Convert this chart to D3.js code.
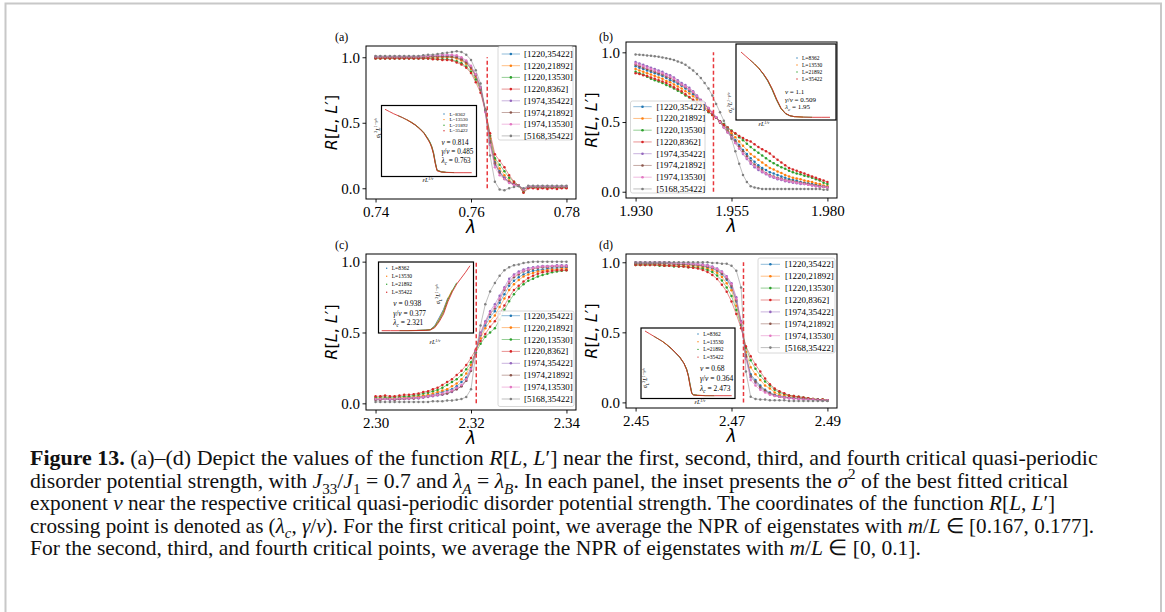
<!DOCTYPE html>
<html>
<head>
<meta charset="utf-8">
<script src="https://cdnjs.cloudflare.com/ajax/libs/d3/7.8.5/d3.min.js"></script>
<style>
  body { margin: 0; background: #fff; }
  svg { display: block; }
</style>
</head>
<body>
<svg id="fig" width="1165" height="612"></svg>
<script>
// ---------- data ----------
const seriesNames = ['[1220,35422]', '[1220,21892]', '[1220,13530]', '[1220,8362]',
                     '[1974,35422]', '[1974,21892]', '[1974,13530]', '[5168,35422]'];
const seriesColors = ['#1f77b4', '#ff7f0e', '#2ca02c', '#d62728', '#9467bd', '#8c564b', '#e377c2', '#7f7f7f'];
const insetNames = ['L=8362', 'L=13530', 'L=21892', 'L=35422'];
const insetColors = ['#1f77b4', '#ff7f0e', '#2ca02c', '#d62728'];
const yTicks = [0, 0.5, 1.0];
const xTicksA = [0.74, 0.76, 0.78];
const xTicksB = [1.930, 1.955, 1.980];
const xTicksC = [2.30, 2.32, 2.34];
const xTicksD = [2.45, 2.47, 2.49];
const critLambda = [0.7634, 1.9503, 2.3211, 2.4725];
const insetNu = ['0.814', '1.1', '0.938', '0.68'];
const insetGammaNu = ['0.485', '0.509', '0.377', '0.364'];
const insetLamC = ['0.763', '1.95', '2.321', '2.473'];

// lambda grids the data were sampled on
const lamA = d3.range(41).map(i => +(0.740 + 0.001 * i).toFixed(3));
const lamB = d3.range(51).map(i => +(1.930 + 0.001 * i).toFixed(3));
const lamC = d3.range(41).map(i => +(2.300 + 0.001 * i).toFixed(3));
const lamD = d3.range(41).map(i => +(2.450 + 0.001 * i).toFixed(3));

// panel (a)
const a_1220_35422 = [1.00,1.00,1.00,1.00,1.00,1.00,1.00,1.00,1.00,1.00,
  1.00,1.00,1.005,1.005,1.005,1.005,1.00,.995,.98,.955,
  .92,.86,.77,.60,.36,.20,.13,.08,.05,.03,
  .02,-.01,.01,.01,.01,.01,.01,.01,.01,.01,.01];
const a_1220_21892 = [1.00,1.00,1.00,1.00,1.00,1.00,1.00,1.00,1.00,1.00,
  1.00,1.00,1.00,1.00,1.00,1.00,1.00,.99,.975,.95,
  .91,.85,.76,.60,.38,.22,.15,.10,.06,.035,
  .02,-.015,.01,.01,.005,.01,.005,.01,.005,.01,.005];
const a_1220_13530 = [.99,.99,.99,.99,.99,.99,.99,.99,.99,.99,
  .99,.99,.99,.985,.985,.985,.98,.97,.955,.93,
  .89,.83,.75,.60,.40,.23,.18,.13,.08,.05,
  .02,-.03,.005,.005,.005,.005,.005,.005,.005,.005,.005];
const a_1220_8362 = [.99,.99,.99,.99,.99,.99,.99,.99,.99,.99,
  .99,.99,.985,.985,.98,.98,.975,.96,.945,.92,
  .88,.81,.73,.59,.42,.26,.21,.16,.10,.05,
  .02,-.035,0,0,-.005,0,-.005,0,-.005,0,0];
const a_1974_35422 = [1.005,1.005,1.005,1.005,1.005,1.005,1.005,1.005,1.005,1.005,
  1.01,1.01,1.01,1.015,1.015,1.015,1.015,1.01,.995,.97,
  .93,.87,.77,.59,.34,.18,.12,.08,.05,.03,
  .02,-.01,.015,.015,.015,.015,.015,.015,.015,.015,.015];
const a_1974_21892 = [1.00,1.00,1.00,1.00,1.00,1.00,1.00,1.00,1.00,1.00,
  1.00,1.005,1.005,1.005,1.005,1.005,1.005,1.00,.985,.96,
  .92,.86,.76,.59,.35,.19,.12,.07,.045,.03,
  .02,-.01,.01,.01,.01,.01,.01,.01,.01,.01,.01];
const a_1974_13530 = [1.005,1.005,1.005,1.005,1.005,1.005,1.005,1.005,1.005,1.005,
  1.01,1.01,1.015,1.015,1.02,1.02,1.02,1.015,1.00,.975,
  .935,.87,.77,.58,.33,.16,.10,.07,.04,.025,
  .02,-.01,.015,.015,.015,.015,.015,.015,.015,.015,.015];
const a_5168_35422 = [1.01,1.01,1.01,1.01,1.01,1.01,1.01,1.01,1.01,1.01,
  1.015,1.02,1.02,1.025,1.03,1.035,1.04,1.045,1.04,1.02,
  .98,.90,.80,.60,.25,.05,-.01,-.015,0,.01,
  .015,0,.02,.02,.02,.02,.02,.02,.02,.02,.02];

// panel (b)
const b_1220_35422 = [.90,.89,.88,.87,.86,.85,.84,.83,.815,.80,.79,.775,.76,.74,.72,.70,.675,.65,.625,.595,
  .565,.535,.505,.475,.44,.41,.37,.335,.30,.27,.24,.215,.19,.17,.155,.14,.13,.12,.11,.10,
  .09,.085,.08,.07,.065,.06,.055,.05,.045,.04,.035];
const b_1220_21892 = [.88,.87,.86,.85,.84,.83,.82,.81,.795,.785,.77,.755,.74,.72,.705,.685,.66,.635,.61,.585,
  .56,.53,.50,.475,.445,.42,.39,.36,.33,.30,.27,.25,.23,.21,.19,.17,.16,.145,.135,.12,
  .11,.10,.095,.09,.08,.075,.07,.06,.055,.045,.04];
const b_1220_13530 = [.86,.85,.84,.825,.81,.80,.79,.78,.765,.755,.74,.725,.71,.69,.675,.655,.635,.615,.595,.57,
  .55,.53,.505,.485,.46,.44,.415,.39,.37,.345,.32,.30,.28,.26,.24,.22,.205,.19,.175,.165,
  .15,.14,.13,.125,.115,.11,.10,.09,.08,.065,.055];
const b_1220_8362 = [.85,.845,.835,.83,.82,.81,.80,.79,.78,.765,.75,.735,.72,.70,.68,.66,.64,.62,.595,.575,
  .55,.53,.505,.48,.46,.435,.42,.40,.385,.37,.36,.34,.32,.305,.29,.275,.25,.23,.21,.19,
  .17,.16,.15,.14,.13,.12,.11,.10,.09,.08,.07];
const b_1974_35422 = [.93,.92,.91,.90,.89,.88,.87,.86,.845,.835,.82,.80,.78,.765,.745,.72,.69,.66,.635,.60,
  .57,.535,.50,.46,.425,.39,.35,.31,.27,.235,.20,.175,.155,.14,.125,.11,.10,.09,.085,.075,
  .07,.065,.06,.055,.055,.05,.045,.04,.035,.035,.03];
const b_1974_21892 = [.91,.90,.89,.88,.87,.86,.85,.84,.825,.815,.80,.785,.765,.75,.73,.71,.68,.655,.625,.595,
  .565,.53,.495,.465,.43,.40,.36,.325,.29,.255,.22,.195,.175,.155,.135,.12,.11,.10,.095,.085,
  .08,.075,.07,.065,.06,.055,.05,.045,.04,.035,.03];
const b_1974_13530 = [.92,.91,.90,.89,.88,.87,.86,.85,.835,.825,.81,.79,.77,.755,.735,.715,.685,.655,.63,.60,
  .57,.535,.50,.46,.425,.39,.35,.31,.275,.24,.21,.185,.165,.145,.13,.115,.105,.095,.09,.08,
  .075,.07,.065,.06,.055,.05,.045,.04,.035,.035,.03];
const b_5168_35422 = [.985,.983,.98,.978,.975,.972,.968,.963,.958,.952,.945,.935,.925,.91,.89,.87,.845,.815,.78,.74,
  .69,.63,.57,.51,.45,.38,.29,.20,.12,.07,.04,.03,.025,.02,.02,.02,.02,.02,.02,.02,
  .02,.02,.02,.02,.02,.02,.02,.02,.02,.015,.015];

// panel (c)
const c_1220_35422 = [.03,.03,.035,.03,.03,.035,.035,.04,.04,.045,
  .05,.055,.06,.07,.08,.09,.10,.12,.15,.18,
  .25,.37,.48,.55,.61,.65,.71,.77,.83,.865,
  .89,.91,.925,.935,.94,.945,.95,.955,.955,.96,.96];
const c_1220_21892 = [.035,.035,.04,.035,.035,.04,.04,.045,.045,.05,
  .055,.06,.07,.08,.09,.10,.12,.14,.17,.21,
  .27,.36,.46,.53,.58,.62,.68,.74,.80,.84,
  .87,.895,.91,.92,.93,.935,.94,.945,.945,.95,.95];
const c_1220_13530 = [.04,.045,.045,.04,.045,.045,.05,.05,.055,.06,
  .07,.075,.085,.095,.11,.13,.15,.17,.20,.24,
  .29,.36,.42,.47,.50,.53,.59,.66,.72,.77,
  .81,.84,.865,.88,.895,.905,.915,.925,.93,.935,.94];
const c_1220_8362 = [.05,.05,.055,.05,.05,.055,.06,.06,.065,.07,
  .08,.085,.10,.11,.13,.15,.17,.20,.23,.27,
  .32,.38,.44,.49,.54,.58,.63,.69,.75,.80,
  .83,.86,.885,.90,.915,.925,.93,.935,.94,.94,.94];
const c_1974_35422 = [.025,.025,.03,.025,.025,.03,.03,.03,.035,.035,
  .04,.045,.05,.055,.06,.07,.08,.10,.12,.16,
  .23,.37,.50,.58,.65,.70,.76,.82,.88,.91,
  .93,.945,.955,.96,.965,.97,.97,.97,.975,.975,.975];
const c_1974_21892 = [.025,.025,.03,.03,.025,.03,.03,.035,.035,.04,
  .045,.05,.055,.06,.065,.07,.085,.10,.12,.16,
  .23,.37,.49,.57,.63,.67,.73,.80,.85,.89,
  .91,.93,.94,.95,.955,.96,.96,.965,.965,.965,.965];
const c_1974_13530 = [.03,.03,.03,.03,.03,.035,.035,.035,.04,.04,
  .045,.05,.055,.06,.07,.08,.09,.11,.13,.17,
  .24,.37,.49,.57,.64,.68,.74,.81,.86,.90,
  .92,.935,.945,.955,.96,.965,.965,.97,.97,.97,.97];
const c_5168_35422 = [.01,.01,.01,.01,.01,.01,.01,.01,.01,.01,
  .01,.01,.015,.015,.015,.02,.02,.025,.03,.045,
  .10,.35,.55,.70,.79,.85,.90,.94,.96,.975,
  .98,.99,.995,1.0,1.0,1.0,1.0,1.0,1.0,1.0,1.0];

// panel (d)
const d_1220_35422 = [.99,.99,.99,.99,.99,.99,.99,.99,.985,.985,
  .985,.985,.98,.98,.975,.965,.955,.94,.915,.875,
  .82,.72,.57,.34,.20,.16,.12,.09,.07,.055,
  .045,.04,.035,.03,.03,.025,.025,.02,.02,.015,.015];
const d_1220_21892 = [.985,.985,.985,.985,.985,.985,.98,.98,.98,.98,
  .98,.975,.975,.97,.965,.955,.945,.925,.895,.85,
  .80,.69,.56,.36,.25,.20,.16,.12,.10,.07,
  .055,.05,.045,.04,.035,.03,.025,.025,.02,.02,.015];
const d_1220_13530 = [.98,.98,.98,.98,.98,.975,.975,.975,.97,.97,
  .97,.965,.965,.96,.955,.945,.93,.905,.87,.82,
  .76,.66,.55,.39,.30,.24,.19,.15,.12,.09,
  .07,.06,.05,.045,.04,.035,.03,.025,.02,.02,.015];
const d_1220_8362 = [.98,.98,.98,.98,.98,.98,.975,.975,.975,.97,
  .97,.965,.96,.955,.945,.93,.91,.88,.84,.79,
  .72,.63,.53,.40,.33,.27,.22,.17,.13,.10,
  .08,.065,.05,.045,.04,.035,.03,.025,.02,.02,.015];
const d_1974_35422 = [1.0,1.0,1.0,1.0,1.0,1.0,1.0,1.0,.995,.995,
  .995,.995,.99,.99,.985,.98,.97,.955,.935,.90,
  .85,.75,.58,.32,.18,.14,.10,.08,.06,.05,
  .04,.035,.03,.03,.025,.025,.02,.02,.02,.015,.015];
const d_1974_21892 = [.99,.99,.99,.99,.99,.99,.99,.99,.99,.985,
  .985,.985,.98,.98,.975,.97,.96,.945,.92,.885,
  .83,.73,.57,.33,.19,.15,.11,.085,.065,.05,
  .04,.035,.035,.03,.03,.025,.025,.02,.02,.015,.015];
const d_1974_13530 = [1.0,1.0,1.0,1.0,1.0,1.0,1.0,.995,.995,.995,
  .995,.99,.99,.985,.98,.975,.965,.95,.93,.895,
  .845,.74,.57,.31,.16,.12,.09,.07,.055,.045,
  .04,.035,.03,.025,.025,.02,.02,.02,.015,.015,.015];
const d_5168_35422 = [1.0,1.0,1.0,1.0,1.0,1.0,1.0,1.0,1.0,1.0,
  1.0,1.0,1.0,1.0,1.0,1.0,.995,.995,.99,.99,
  .975,.94,.82,.22,.04,.025,.02,.02,.015,.015,
  .015,.015,.01,.01,.01,.01,.01,.01,.01,.01,.01];

// insets: scaled variable (arbitrary units) and sigma^2 L^(1-gamma/nu), null = not sampled
const insA_x = [0,.05,.1,.15,.2,.25,.3,.35,.4,.45,.5,.52,.54,.56,.58,.6,.65,.7,.8,.9,1.0];
const insA_8362 = [null,null,null,null,null,null,.80,.755,.70,.63,.53,.48,.415,.32,.17,.045,.015,.008,null,null,null];
const insA_13530 = [null,null,null,null,null,.84,.80,.755,.70,.63,.525,.475,.41,.31,.16,.04,.014,.007,null,null,null];
const insA_21892 = [null,null,null,.90,.87,.835,.795,.75,.695,.625,.52,.47,.40,.30,.15,.035,.012,.006,.002,null,null];
const insA_35422 = [1.0,.965,.93,.90,.87,.835,.795,.75,.69,.62,.51,.46,.39,.29,.14,.03,.01,.005,0,0,0];

const insB_x = [0,.05,.1,.15,.2,.25,.3,.35,.4,.45,.5,.55,.6,.7,.8,.9,1.0];
const insB_8362 = [null,null,null,null,.75,.66,.555,.42,.26,.13,.055,.022,.01,null,null,null,null];
const insB_13530 = [null,null,null,.82,.75,.665,.56,.425,.265,.13,.056,.023,.01,.003,null,null,null];
const insB_21892 = [null,null,.88,.82,.75,.665,.565,.43,.27,.135,.058,.024,.01,.003,.001,null,null];
const insB_35422 = [1,.94,.88,.82,.75,.67,.57,.44,.28,.14,.06,.025,.01,.003,0,0,0];

const insC_x = [0,.1,.2,.3,.4,.5,.55,.6,.65,.7,.75,.8,.85,.9,.95,1.0];
const insC_8362 = [null,null,null,null,.01,.015,.022,.08,.20,.33,.51,null,null,null,null,null];
const insC_13530 = [null,null,null,.007,.009,.013,.02,.07,.18,.31,.50,.63,null,null,null,null];
const insC_21892 = [null,null,.006,.006,.008,.012,.018,.06,.16,.29,.48,.62,.74,null,null,null];
const insC_35422 = [.005,.005,.005,.005,.007,.01,.015,.05,.14,.26,.45,.60,.72,.81,.90,1.0];

const insD_x = [0,.05,.1,.15,.2,.25,.3,.35,.4,.45,.48,.5,.52,.54,.56,.6,.7,.8,.9,1.0];
const insD_8362 = [null,null,null,null,null,.785,.73,.66,.59,.495,.41,.32,.18,.045,.016,.008,null,null,null,null];
const insD_13530 = [null,null,null,null,.84,.79,.73,.665,.595,.50,.41,.31,.17,.04,.014,.007,.002,null,null,null];
const insD_21892 = [null,null,.92,.88,.84,.79,.735,.67,.60,.50,.41,.31,.16,.035,.012,.006,.001,0,null,null];
const insD_35422 = [1,.96,.92,.88,.84,.79,.735,.67,.60,.50,.40,.30,.15,.03,.01,.005,0,0,0,0];

// ---------- layout ----------
const SERIF = "'Liberation Serif', 'Times New Roman', serif";
const SANS = "'DejaVu Sans', sans-serif";

const panels = [
  { label: '(a)', labelXY: [335, 41], lam: lamA,
    ys: [a_1220_35422, a_1220_21892, a_1220_13530, a_1220_8362, a_1974_35422, a_1974_21892, a_1974_13530, a_5168_35422],
    box: { l: 366, r: 576, t: 46, b: 199 }, xDom: [0.738, 0.782], yDom: [-0.082, 1.086],
    xTicks: xTicksA, xFmt: '.2f', crit: critLambda[0],
    leg: { x: 498, y: 46.5, w: 75, h: 93.5, row0: 54, step: 11.7, h0: 501.7, h1: 520, tx: 524 },
    ins: { idx: 0, l: 381.5, t: 105.5, r: 476.5, b: 176.5, xr: [385, 471.7], yr: [172.7, 109.3],
      x: insA_x, ys: [insA_8362, insA_13530, insA_21892, insA_35422],
      legX: 444, legTX: 449.5, legY0: 114, legStep: 5.6, legFont: 5,
      parX: 441.5, parY0: 142.7, parStep: 9.2, parFont: 7.2, yl: [377.5, 128], xl: [428, 182] } },
  { label: '(b)', labelXY: [599, 41], lam: lamB,
    ys: [b_1220_35422, b_1220_21892, b_1220_13530, b_1220_8362, b_1974_35422, b_1974_21892, b_1974_13530, b_5168_35422],
    box: { l: 626, r: 837, t: 42, b: 198 }, xDom: [1.9275, 1.9825], yDom: [-0.045, 1.074],
    xTicks: xTicksB, xFmt: '.3f', crit: critLambda[1],
    leg: { x: 630.5, y: 101, w: 74.5, h: 92, row0: 106.7, step: 11.75, h0: 633.3, h1: 651.7, tx: 656.5 },
    ins: { idx: 1, l: 736, t: 44, r: 836, b: 120, xr: [741, 830], yr: [117.3, 52],
      x: insB_x, ys: [insB_8362, insB_13530, insB_21892, insB_35422],
      legX: 797, legTX: 802, legY0: 58, legStep: 7, legFont: 5.5,
      parX: 785, parY0: 92, parStep: 7.5, parFont: 7, yl: [730, 102.5], xl: [764, 126] } },
  { label: '(c)', labelXY: [335, 249], lam: lamC,
    ys: [c_1220_35422, c_1220_21892, c_1220_13530, c_1220_8362, c_1974_35422, c_1974_21892, c_1974_13530, c_5168_35422],
    box: { l: 366, r: 576, t: 254, b: 410 }, xDom: [2.298, 2.342], yDom: [-0.047, 1.054],
    xTicks: xTicksC, xFmt: '.2f', crit: critLambda[2],
    leg: { x: 498, y: 311, w: 76, h: 95.5, row0: 315.7, step: 11.9, h0: 501.7, h1: 520, tx: 524 },
    ins: { idx: 2, l: 378.5, t: 262, r: 473.5, b: 333, xr: [381.7, 470], yr: [331, 265.7],
      x: insC_x, ys: [insC_8362, insC_13530, insC_21892, insC_35422],
      legX: 386.7, legTX: 391.7, legY0: 268.3, legStep: 8, legFont: 5.5,
      parX: 393.3, parY0: 304, parStep: 9.4, parFont: 7.4, yl: [438.3, 294], xl: [435, 344] } },
  { label: '(d)', labelXY: [599, 249], lam: lamD,
    ys: [d_1220_35422, d_1220_21892, d_1220_13530, d_1220_8362, d_1974_35422, d_1974_21892, d_1974_13530, d_5168_35422],
    box: { l: 626, r: 837, t: 254, b: 408 }, xDom: [2.448, 2.492], yDom: [-0.04, 1.059],
    xTicks: xTicksD, xFmt: '.2f', crit: critLambda[3],
    leg: { x: 758, y: 258, w: 77, h: 95, row0: 264.3, step: 11.9, h0: 760.7, h1: 780, tx: 785 },
    ins: { idx: 3, l: 641, t: 328, r: 735, b: 398.5, xr: [645, 731.7], yr: [395.7, 331],
      x: insD_x, ys: [insD_8362, insD_13530, insD_21892, insD_35422],
      legX: 698, legTX: 703.3, legY0: 334, legStep: 7.7, legFont: 5.5,
      parX: 700, parY0: 368.3, parStep: 10, parFont: 7.5, yl: [645, 378], xl: [700, 404] } }
];

const svg = d3.select('#fig');
svg.append('rect').attr('width', 1165).attr('height', 612).attr('fill', '#fff');
svg.append('rect').attr('x', 5.5).attr('y', 3.5).attr('width', 1155.5).attr('height', 700)
  .attr('fill', 'none').attr('stroke', '#c8c8c8').attr('stroke-width', 2);

// mixed-style text: parts = [[string, 'b i sub sup'], ...]
function rich(sel, parts, size) {
  let shift = 0;
  parts.forEach(([str, st]) => {
    const tok = (st || '').split(' ');
    const ts = sel.append('tspan').text(str);
    if (tok.includes('b')) ts.attr('font-weight', 'bold');
    if (tok.includes('i')) ts.attr('font-style', 'italic');
    let target = 0;
    if (tok.includes('sub')) target = size * 0.28;
    if (tok.includes('sup')) target = -size * 0.38;
    if (tok.includes('sub') || tok.includes('sup')) ts.attr('font-size', size * 0.7);
    if (target !== shift) { ts.attr('dy', target - shift); shift = target; }
  });
  return sel;
}

const drawPanel = (p) => {
  const g = svg.append('g');
  const x = d3.scaleLinear().domain(p.xDom).range([p.box.l, p.box.r]);
  const y = d3.scaleLinear().domain(p.yDom).range([p.box.b, p.box.t]);
  const line = d3.line().x(d => x(d[0])).y(d => y(d[1]));

  p.ys.forEach((vals, k) => {
    const pts = vals.map((v, i) => [p.lam[i], v]);
    g.append('path').datum(pts).attr('d', line)
      .attr('fill', 'none').attr('stroke', seriesColors[k])
      .attr('stroke-opacity', 0.5).attr('stroke-width', 1);
    g.append('g').selectAll('circle').data(pts).join('circle')
      .attr('cx', d => x(d[0])).attr('cy', d => y(d[1]))
      .attr('r', 1.25).attr('fill', seriesColors[k]);
  });

  // critical point
  g.append('line')
    .attr('x1', x(p.crit)).attr('x2', x(p.crit)).attr('y1', y(0)).attr('y2', y(1))
    .attr('stroke', '#e8383d').attr('stroke-width', 1.5).attr('stroke-dasharray', '4,2.5');

  // axes
  const xAxis = g.append('g').attr('transform', `translate(0,${p.box.b})`)
    .call(d3.axisBottom(x).tickValues(p.xTicks).tickSize(3.5).tickPadding(3.4).tickFormat(d3.format(p.xFmt)));
  const yAxis = g.append('g').attr('transform', `translate(${p.box.l},0)`)
    .call(d3.axisLeft(y).tickValues(yTicks).tickSize(3.5).tickPadding(2.5).tickFormat(d3.format('.1f')));
  [xAxis, yAxis].forEach(ax => {
    ax.select('.domain').remove();
    ax.selectAll('text').attr('font-family', SERIF).attr('font-size', 15).attr('fill', '#000');
    ax.selectAll('line').attr('stroke', '#000').attr('stroke-width', 0.9);
  });
  g.append('rect').attr('x', p.box.l).attr('y', p.box.t)
    .attr('width', p.box.r - p.box.l).attr('height', p.box.b - p.box.t)
    .attr('fill', 'none').attr('stroke', '#000').attr('stroke-width', 1);

  // axis labels
  g.append('text').attr('x', (p.box.l + p.box.r) / 2).attr('y', p.box.b + 34)
    .attr('text-anchor', 'middle').attr('font-family', SANS).attr('font-size', 17)
    .attr('font-style', 'italic').text('λ');
  const cy = (p.box.t + p.box.b) / 2, cx = p.box.l - 35;
  rich(g.append('text').attr('transform', `translate(${cx},${cy}) rotate(-90)`)
    .attr('text-anchor', 'middle').attr('dominant-baseline', 'central')
    .attr('font-family', SANS).attr('font-size', 16),
    [['R', 'i'], ['['], ['L', 'i'], [', '], ['L', 'i'], ['′]']], 16);

  // panel label
  g.append('text').attr('x', p.labelXY[0]).attr('y', p.labelXY[1])
    .attr('font-family', SERIF).attr('font-size', 12).text(p.label);

  // legend
  const L = p.leg;
  g.append('rect').attr('x', L.x).attr('y', L.y).attr('width', L.w).attr('height', L.h)
    .attr('rx', 2).attr('fill', '#fff').attr('fill-opacity', 0.85)
    .attr('stroke', '#d4d4d4').attr('stroke-width', 0.9);
  seriesNames.forEach((name, k) => {
    const yy = L.row0 + k * L.step;
    g.append('line').attr('x1', L.h0).attr('x2', L.h1).attr('y1', yy).attr('y2', yy)
      .attr('stroke', seriesColors[k]).attr('stroke-opacity', 0.5).attr('stroke-width', 1);
    g.append('circle').attr('cx', (L.h0 + L.h1) / 2).attr('cy', yy).attr('r', 1.3)
      .attr('fill', seriesColors[k]);
    g.append('text').attr('x', L.tx).attr('y', yy).attr('dominant-baseline', 'central')
      .attr('font-family', SERIF).attr('font-size', 9).text(name);
  });

  // inset
  const I = p.ins;
  g.append('rect').attr('x', I.l).attr('y', I.t).attr('width', I.r - I.l).attr('height', I.b - I.t)
    .attr('fill', '#fff').attr('stroke', '#000').attr('stroke-width', 1.2);
  const ix = d3.scaleLinear().domain([0, 1]).range(I.xr);
  const iy = d3.scaleLinear().domain([0, 1]).range(I.yr);
  const iline = d3.line().defined(d => d[1] !== null).x(d => ix(d[0])).y(d => iy(d[1]));
  I.ys.forEach((vals, k) => {
    g.append('path').datum(vals.map((v, i) => [I.x[i], v])).attr('d', iline)
      .attr('fill', 'none').attr('stroke', insetColors[k]).attr('stroke-width', 1)
      .attr('stroke-opacity', 0.85);
  });
  insetNames.forEach((name, k) => {
    const yy = I.legY0 + k * I.legStep;
    g.append('circle').attr('cx', I.legX).attr('cy', yy).attr('r', 0.7).attr('fill', insetColors[k]);
    g.append('text').attr('x', I.legTX).attr('y', yy).attr('dominant-baseline', 'central')
      .attr('font-family', SERIF).attr('font-size', I.legFont).text(name);
  });
  const parLines = [
    [['ν', 'i'], [' = ' + insetNu[I.idx]]],
    [['γ', 'i'], ['/'], ['ν', 'i'], [' = ' + insetGammaNu[I.idx]]],
    [['λ', 'i'], ['c', 'i sub'], [' = ' + insetLamC[I.idx]]]
  ];
  parLines.forEach((parts, k) => {
    rich(g.append('text').attr('x', I.parX).attr('y', I.parY0 + k * I.parStep + I.parFont * 0.33)
      .attr('font-family', SERIF).attr('font-size', I.parFont), parts, I.parFont);
  });
  rich(g.append('text').attr('transform', `translate(${I.yl[0]},${I.yl[1]}) rotate(-90)`)
    .attr('text-anchor', 'middle').attr('dominant-baseline', 'central')
    .attr('font-family', SERIF).attr('font-size', 6),
    [['σ', 'i'], ['L', 'i sub'], ['2', 'sup'], ['L', 'i'], ['1−γ/ν', 'i sup']], 6);
  rich(g.append('text').attr('x', I.xl[0]).attr('y', I.xl[1]).attr('text-anchor', 'middle')
    .attr('font-family', SERIF).attr('font-size', 6),
    [['ε', 'i'], ['L', 'i'], ['1/ν', 'i sup']], 6);
};

panels.forEach(drawPanel);

// ---------- caption ----------
const captionLines = [
  [['Figure 13.', 'b'], [' (a)–(d) Depict the values of the function '], ['R', 'i'], ['['], ['L', 'i'], [', '], ['L', 'i'], ['′]'],
   [' near the first, second, third, and fourth critical quasi-periodic']],
  [['disorder potential strength, with '], ['J', 'i'], ['33', 'sub'], ['/'], ['J', 'i'], ['1', 'sub'], [' = 0.7 and '],
   ['λ', 'i'], ['A', 'i sub'], [' = '], ['λ', 'i'], ['B', 'i sub'], ['. In each panel, the inset presents the '],
   ['σ', 'i'], ['2', 'sup'], [' of the best fitted critical']],
  [['exponent '], ['ν', 'i'], [' near the respective critical quasi-periodic disorder potential strength. The coordinates of the function '],
   ['R', 'i'], ['['], ['L', 'i'], [', '], ['L', 'i'], ['′]']],
  [['crossing point is denoted as ('], ['λ', 'i'], ['c', 'i sub'], [', '], ['γ', 'i'], ['/'], ['ν', 'i'],
   ['). For the first critical point, we average the NPR of eigenstates with '], ['m', 'i'], ['/'], ['L', 'i'],
   [' ∈ [0.167, 0.177].']],
  [['For the second, third, and fourth critical points, we average the NPR of eigenstates with '], ['m', 'i'], ['/'],
   ['L', 'i'], [' ∈ [0, 0.1].']]
];
// right ends of the lines in the figure (last line is ragged)
const captionRight = [1098, 1069, 1056, 1095, null];
const capX = 30, capY0 = 465, capStep = 22.5, capBase = 18;
const capNodes = captionLines.map((parts, k) =>
  rich(svg.append('text').attr('x', capX).attr('y', capY0 + k * capStep)
    .attr('font-family', SERIF).attr('font-size', capBase).attr('fill', '#111'), parts, capBase));
// per-line font size so that each line ends where it does in the figure
const sizes = capNodes.map((t, k) => captionRight[k] === null ? null
  : capBase * (captionRight[k] - capX) / t.node().getComputedTextLength());
const sizeMain = sizes[0];
capNodes.forEach((t, k) => {
  const s = sizes[k] === null ? d3.mean(sizes.filter(v => v !== null)) : Math.min(sizes[k], sizeMain);
  t.selectAll('tspan').remove();
  t.attr('font-size', s);
  rich(t, captionLines[k], s);
});
</script>
</body>
</html>
